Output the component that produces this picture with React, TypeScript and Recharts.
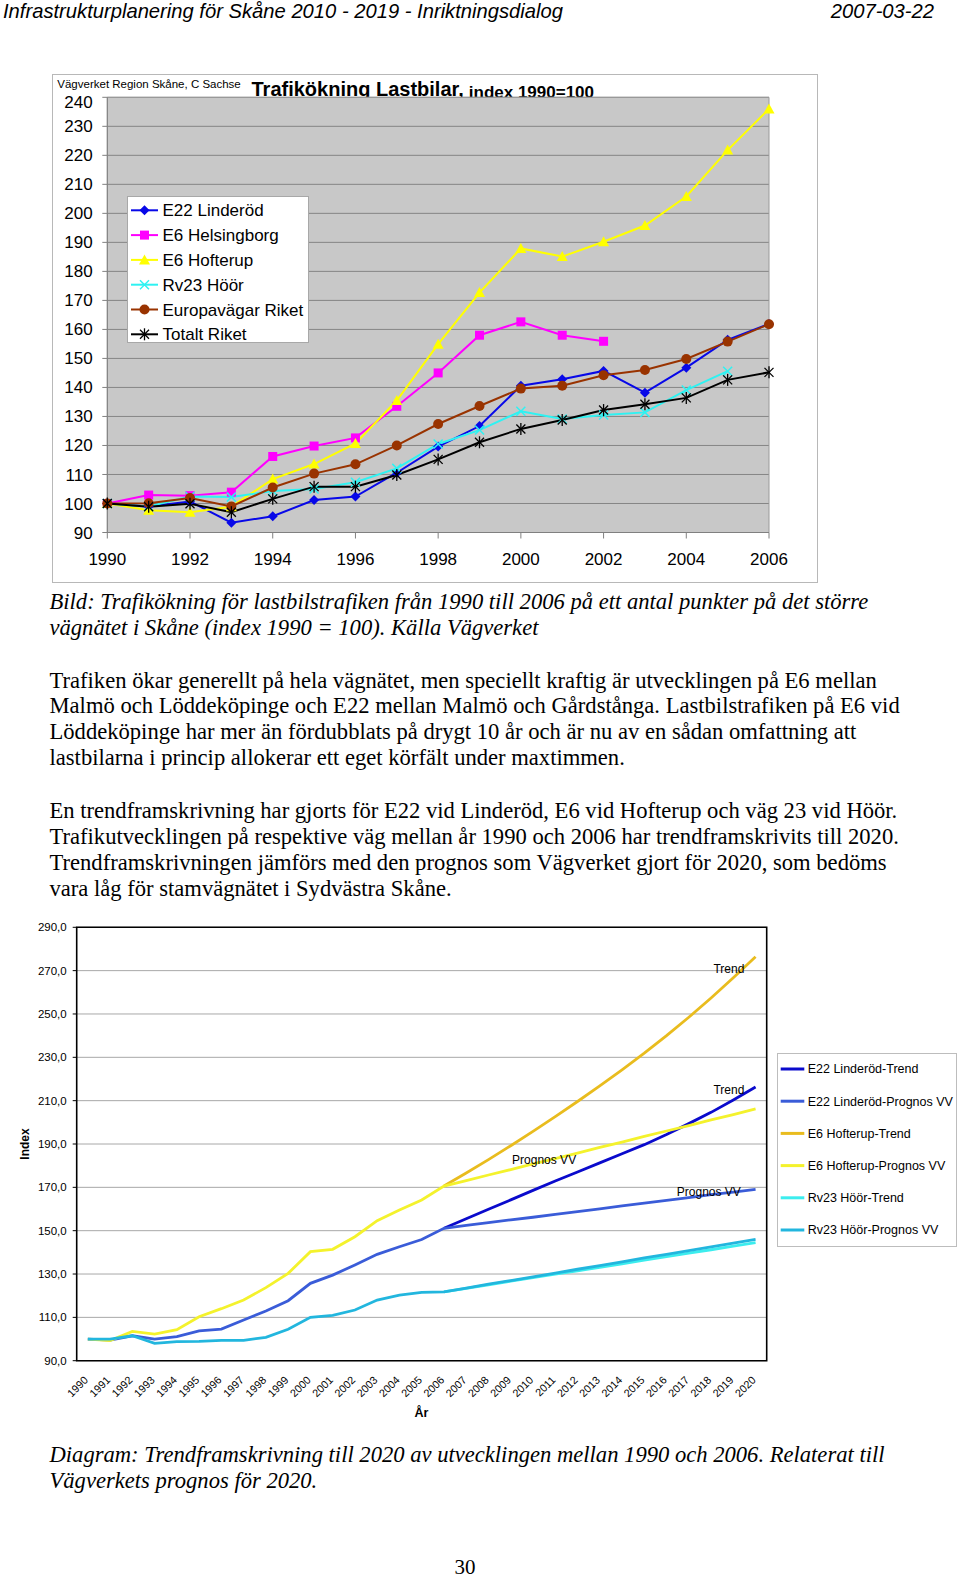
import React from "react";
import { LineChart, Line, XAxis, YAxis, CartesianGrid, ReferenceArea, ReferenceDot } from "recharts";

const SANS = "'Liberation Sans', Arial, Helvetica, sans-serif";
const SERIF = "'Liberation Serif', 'Times New Roman', serif";

// ---------- chart 1: Trafikökning Lastbilar, index 1990=100 ----------
const years = [1990, 1991, 1992, 1993, 1994, 1995, 1996, 1997, 1998, 1999, 2000, 2001, 2002, 2003, 2004, 2005, 2006];
const e22Linderod = [100, 99, 100.7, 93.4, 95.6, 101.2, 102.4, 110.6, 119.6, 126.7, 140.6, 142.8, 145.7, 138.2, 146.8, 156.4, 161.9];
const e6Helsingborg = [100, 102.9, 102.7, 103.9, 116.2, 119.8, 122.6, 133.5, 145.0, 158.0, 162.6, 158.0, 155.9, null, null, null, null];
const e6Hofterup = [100, 97.7, 97.0, 98.9, 108.4, 113.6, 120.7, 135.5, 154.9, 172.7, 187.9, 185.1, 190.2, 195.8, 205.8, 221.8, 236.0];
const rv23Hoor = [100, 99.0, 102.4, 102.2, 104.3, 105.0, 107.3, 112.1, 120.5, 125.3, 131.8, 129.1, 130.5, 131.4, 139.1, 145.6, null];
const europavagar = [100, 100.1, 101.9, 99.0, 105.5, 110.3, 113.5, 120.0, 127.4, 133.6, 139.6, 140.6, 144.2, 146.0, 149.8, 155.8, 161.8];
const totaltRiket = [100, 98.9, 99.9, 97.0, 101.6, 105.8, 105.8, 109.8, 115.2, 121.1, 125.7, 128.8, 132.2, 134.2, 136.4, 142.6, 145.2];
const topTicksX = [1990, 1992, 1994, 1996, 1998, 2000, 2002, 2004, 2006];
const topTicksY = [90, 100, 110, 120, 130, 140, 150, 160, 170, 180, 190, 200, 210, 220, 230, 240];

// ---------- chart 2: trend vs prognos ----------
const trendYears = [1990, 1991, 1992, 1993, 1994, 1995, 1996, 1997, 1998, 1999, 2000, 2001, 2002, 2003, 2004, 2005, 2006,
  2007, 2008, 2009, 2010, 2011, 2012, 2013, 2014, 2015, 2016, 2017, 2018, 2019, 2020];
const N16 = [null, null, null, null, null, null, null, null, null, null, null, null, null, null, null, null];
const e22Trend = [...N16, 151.1, 155.5, 159.9, 164.2, 168.6, 172.9, 177.1, 181.3, 185.5, 189.7, 194.4, 199.4, 204.6, 210.3, 216.3];
const e22Prognos = [100, 99.5, 101.5, 100.0, 101.1, 103.8, 104.6, 108.8, 112.9, 117.7, 125.7, 129.5, 134.2, 139.1, 142.6, 145.9, 151.1,
  152.4, 153.7, 155.0, 156.2, 157.5, 158.8, 160.1, 161.4, 162.7, 164.0, 165.3, 166.6, 167.8, 169.1];
const e6Trend = [...N16, 170.6, 176.6, 182.8, 189.2, 195.8, 202.6, 209.6, 216.8, 224.2, 231.9, 240.0, 248.5, 257.4, 266.7, 276.4];
const e6Prognos = [100, 99.3, 103.5, 102.3, 104.3, 110.3, 114.0, 118.0, 123.7, 130.3, 140.3, 141.4, 147.2, 154.6, 159.5, 164.2, 170.6,
  173.1, 175.7, 178.2, 180.8, 183.3, 185.8, 188.4, 190.9, 193.5, 196.0, 198.5, 201.1, 203.6, 206.2];
const rv23Trend = [...N16, 121.8, 123.4, 125.0, 126.7, 128.3, 129.9, 131.5, 133.1, 134.7, 136.4, 138.0, 139.6, 141.2, 142.9, 144.5];
const rv23Prognos = [100, 100, 101.5, 98.0, 98.8, 98.9, 99.4, 99.4, 100.8, 104.5, 110.0, 110.9, 113.4, 118.0, 120.3, 121.5, 121.8,
  123.5, 125.3, 127.0, 128.7, 130.4, 132.2, 133.9, 135.6, 137.4, 139.1, 140.8, 142.5, 144.3, 146.0];
const bottomTicksY = [90, 110, 130, 150, 170, 190, 210, 230, 250, 270, 290];

const topData = years.map((year, i) => ({
  year,
  e22: e22Linderod[i],
  e6h: e6Helsingborg[i],
  e6f: e6Hofterup[i],
  rv23: rv23Hoor[i],
  eur: europavagar[i],
  tot: totaltRiket[i],
}));

const bottomData = trendYears.map((year, i) => ({
  year,
  e22t: e22Trend[i],
  e22p: e22Prognos[i],
  e6t: e6Trend[i],
  e6p: e6Prognos[i],
  rv23t: rv23Trend[i],
  rv23p: rv23Prognos[i],
}));

type Shape = "diamond" | "square" | "triangle" | "x" | "circle" | "star";

function marker(shape: Shape, cx: number, cy: number, color: string, key?: any) {
  switch (shape) {
    case "diamond":
      return <polygon key={key} points={`${cx},${cy - 5} ${cx + 5},${cy} ${cx},${cy + 5} ${cx - 5},${cy}`} fill={color} />;
    case "square":
      return <rect key={key} x={cx - 4.5} y={cy - 4.5} width={9} height={9} fill={color} />;
    case "triangle":
      return <polygon key={key} points={`${cx},${cy - 5.5} ${cx + 5.5},${cy + 4.5} ${cx - 5.5},${cy + 4.5}`} fill={color} />;
    case "x":
      return (
        <g key={key} stroke={color} strokeWidth={1.5}>
          <line x1={cx - 4.5} y1={cy - 4.5} x2={cx + 4.5} y2={cy + 4.5} />
          <line x1={cx - 4.5} y1={cy + 4.5} x2={cx + 4.5} y2={cy - 4.5} />
        </g>
      );
    case "circle":
      return <circle key={key} cx={cx} cy={cy} r={5} fill={color} />;
    default:
      return (
        <g key={key} stroke={color} strokeWidth={1.3}>
          <line x1={cx - 4.5} y1={cy - 4.5} x2={cx + 4.5} y2={cy + 4.5} />
          <line x1={cx - 4.5} y1={cy + 4.5} x2={cx + 4.5} y2={cy - 4.5} />
          <line x1={cx} y1={cy - 6} x2={cx} y2={cy + 6} />
        </g>
      );
  }
}

const dotFor = (shape: Shape, color: string) => (props: any) => {
  const { cx, cy, value, index } = props;
  if (value == null || cx == null || cy == null) return <g key={`n${index}`} />;
  return marker(shape, cx, cy, color, `d${index}`);
};

const topSeries: { key: string; name: string; color: string; shape: Shape }[] = [
  { key: "e22", name: "E22 Linderöd", color: "#0808E8", shape: "diamond" },
  { key: "e6h", name: "E6 Helsingborg", color: "#FF00FF", shape: "square" },
  { key: "e6f", name: "E6 Hofterup", color: "#FFFF00", shape: "triangle" },
  { key: "rv23", name: "Rv23 Höör", color: "#2EF2F2", shape: "x" },
  { key: "eur", name: "Europavägar Riket", color: "#993300", shape: "circle" },
  { key: "tot", name: "Totalt Riket", color: "#000000", shape: "star" },
];

const bottomSeries = [
  { key: "e22t", name: "E22 Linderöd-Trend", color: "#0A0ACC" },
  { key: "e22p", name: "E22 Linderöd-Prognos VV", color: "#3A5CD8" },
  { key: "e6t", name: "E6 Hofterup-Trend", color: "#E9BC1E" },
  { key: "e6p", name: "E6 Hofterup-Prognos VV", color: "#F4F22C" },
  { key: "rv23t", name: "Rv23 Höör-Trend", color: "#3CEDEE" },
  { key: "rv23p", name: "Rv23 Höör-Prognos VV", color: "#22B6DE" },
];

const TopYTick = (props: any) => {
  const { x, y, payload } = props;
  const shift = payload.value === 240 ? 4.5 : 0;
  return (
    <text x={x} y={y + shift} dy="0.355em" textAnchor="end" fontSize={17} fontFamily={SANS} fill="#000">
      {payload.value}
    </text>
  );
};

const RotTick = (props: any) => {
  const { x, y, payload } = props;
  const ax = x + 1;
  const ay = y + 20;
  return (
    <text x={ax} y={ay} transform={`rotate(-45, ${ax}, ${ay})`} textAnchor="end" fontSize={10.8} fontFamily={SANS} fill="#000">
      {payload.value}
    </text>
  );
};

const noteLabel = (text: string) => (props: any) => {
  const { viewBox } = props;
  const cx = viewBox.x + (viewBox.width || 0) / 2;
  const cy = viewBox.y + (viewBox.height || 0) / 2;
  return (
    <text x={cx} y={cy} dy="0.355em" textAnchor="middle" fontSize={12} fontFamily={SANS} fill="#000">
      {text}
    </text>
  );
};

const para1 = [
  "Trafiken ökar generellt på hela vägnätet, men speciellt kraftig är utvecklingen på E6 mellan",
  "Malmö och Löddeköpinge och E22 mellan Malmö och Gårdstånga. Lastbilstrafiken på E6 vid",
  "Löddeköpinge har mer än fördubblats på drygt 10 år och är nu av en sådan omfattning att",
  "lastbilarna i princip allokerar ett eget körfält under maxtimmen.",
];
const para2 = [
  "En trendframskrivning har gjorts för E22 vid Linderöd, E6 vid Hofterup och väg 23 vid Höör.",
  "Trafikutvecklingen på respektive väg mellan år 1990 och 2006 har trendframskrivits till 2020.",
  "Trendframskrivningen jämförs med den prognos som Vägverket gjort för 2020, som bedöms",
  "vara låg för stamvägnätet i Sydvästra Skåne.",
];
const caption1 = [
  "Bild: Trafikökning för lastbilstrafiken från 1990 till 2006 på ett antal punkter på det större",
  "vägnätet i Skåne (index 1990 = 100). Källa Vägverket",
];
const caption2 = [
  "Diagram: Trendframskrivning till 2020 av utvecklingen mellan 1990 och 2006. Relaterat till",
  "Vägverkets prognos för 2020.",
];

function PageText() {
  const body = { fontFamily: SERIF, fontSize: 22.6, fill: "#000" };
  return (
    <svg width={960} height={1580} style={{ position: "absolute", left: 0, top: 0 }}>
      <text x={3} y={18} fontFamily={SANS} fontStyle="italic" fontSize={20.2} fill="#000">
        Infrastrukturplanering för Skåne 2010 - 2019 - Inriktningsdialog
      </text>
      <text x={934} y={18} textAnchor="end" fontFamily={SANS} fontStyle="italic" fontSize={20.2} fill="#000">
        2007-03-22
      </text>
      {caption1.map((t, i) => (
        <text key={`c1${i}`} x={49.5} y={609 + i * 26} fontStyle="italic" {...body}>{t}</text>
      ))}
      {para1.map((t, i) => (
        <text key={`p1${i}`} x={49.5} y={687.5 + i * 25.9} {...body}>{t}</text>
      ))}
      {para2.map((t, i) => (
        <text key={`p2${i}`} x={49.5} y={817.5 + i * 26.1} {...body}>{t}</text>
      ))}
      <text x={25} y={1144} transform="rotate(-90, 25, 1144)" dy="0.355em" textAnchor="middle" fontFamily={SANS} fontWeight="bold" fontSize={12} fill="#000">
        Index
      </text>
      <text x={421.5} y={1413} dy="0.355em" textAnchor="middle" fontFamily={SANS} fontWeight="bold" fontSize={12.5} fill="#000">
        År
      </text>
      {caption2.map((t, i) => (
        <text key={`c2${i}`} x={49.5} y={1461.5 + i * 26} fontStyle="italic" {...body}>{t}</text>
      ))}
      <text x={465} y={1574} textAnchor="middle" fontFamily={SERIF} fontSize={21} fill="#000">30</text>
    </svg>
  );
}

function TopChart() {
  return (
    <div style={{ position: "absolute", left: 52, top: 74, width: 766, height: 509, boxSizing: "border-box", border: "1px solid #B8B8B8", background: "#fff" }}>
      <svg width={766} height={509} style={{ position: "absolute", left: -1, top: -1 }}>
        <text x={5.3} y={14} fontFamily={SANS} fontSize={11.5} fill="#000">Vägverket Region Skåne, C Sachse</text>
        <text x={199.5} y={21.5} fontFamily={SANS} fontWeight="bold" fontSize={20} fill="#000">
          Trafikökning Lastbilar,
          <tspan fontSize={17} dx={5} dy={2}>index 1990=100</tspan>
        </text>
      </svg>
      <div style={{ position: "absolute", left: -1, top: -1 }}>
        <LineChart width={766} height={509} data={topData} margin={{ top: 23.3, right: 49, left: 0, bottom: 0 }}>
          <CartesianGrid horizontal vertical={false} fill="#C8C8C8" fillOpacity={1} stroke="#858585" strokeWidth={1} />
          <XAxis
            dataKey="year"
            type="number"
            domain={[1990, 2006]}
            ticks={topTicksX}
            height={50.5}
            axisLine={{ stroke: "#808080" }}
            tickLine={{ stroke: "#808080" }}
            tickSize={6}
            tickMargin={14}
            tick={{ fontSize: 17, fontFamily: SANS, fill: "#000" }}
          />
          <YAxis
            type="number"
            domain={[90, 240]}
            ticks={topTicksY}
            width={55.3}
            axisLine={{ stroke: "#808080" }}
            tickLine={{ stroke: "#808080" }}
            tickSize={5}
            tickMargin={9.6}
            tick={<TopYTick />}
          />
          <ReferenceArea x1={1990} x2={2006} y1={90} y2={240} fill="none" stroke="#9A9A9A" strokeWidth={1} />
          {topSeries.map((s) => (
            <Line
              key={s.key}
              dataKey={s.key}
              stroke={s.color}
              strokeWidth={2}
              dot={dotFor(s.shape, s.color)}
              activeDot={false}
              isAnimationActive={false}
              connectNulls={false}
            />
          ))}
        </LineChart>
      </div>
      <div style={{ position: "absolute", left: 74, top: 121, width: 182, height: 147, boxSizing: "border-box", border: "1px solid #A8A8A8", background: "#fff" }}>
        <svg width={182} height={147} style={{ position: "absolute", left: -1, top: -1 }}>
          {topSeries.map((s, i) => {
            const y = 14.3 + i * 24.8;
            return (
              <g key={s.key}>
                <line x1={4} x2={31} y1={y} y2={y} stroke={s.color} strokeWidth={2} />
                {marker(s.shape, 17.5, y, s.color)}
                <text x={35.5} y={y} dy="0.355em" fontFamily={SANS} fontSize={17} fill="#000">{s.name}</text>
              </g>
            );
          })}
        </svg>
      </div>
    </div>
  );
}

function BottomChart() {
  const edges = [...trendYears.map((y) => y - 0.5), 2020.5];
  return (
    <div style={{ position: "absolute", left: 0, top: 900 }}>
      <LineChart width={960} height={540} data={bottomData} margin={{ top: 27.3, right: 193.3, left: 0, bottom: 0 }}>
        <CartesianGrid horizontal vertical={false} stroke="#A8A8A8" strokeWidth={1} />
        <XAxis
          xAxisId="edge"
          type="number"
          domain={[1989.5, 2020.5]}
          ticks={edges}
          height={0}
          axisLine={false}
          tick={false}
          tickLine={{ stroke: "#000" }}
          tickSize={4}
          allowDataOverflow
        />
        <XAxis
          xAxisId="main"
          dataKey="year"
          type="number"
          domain={[1989.5, 2020.5]}
          ticks={trendYears}
          height={79.3}
          axisLine={false}
          tickLine={false}
          tickSize={0}
          tickMargin={0}
          interval={0}
          tick={<RotTick />}
        />
        <YAxis
          type="number"
          domain={[90, 290]}
          ticks={bottomTicksY}
          width={76.7}
          axisLine={false}
          tickLine={{ stroke: "#000" }}
          tickSize={4}
          tickMargin={6}
          tickFormatter={(v: number) => v.toFixed(1).replace(".", ",")}
          tick={{ fontSize: 11.5, fontFamily: SANS, fill: "#000" }}
        />
        <ReferenceArea xAxisId="main" x1={1989.5} x2={2020.5} y1={90} y2={290} fill="none" stroke="#000" strokeWidth={1.6} />
        {bottomSeries.map((s) => (
          <Line
            key={s.key}
            xAxisId="main"
            dataKey={s.key}
            stroke={s.color}
            strokeWidth={2.8}
            dot={false}
            activeDot={false}
            isAnimationActive={false}
            connectNulls={false}
          />
        ))}
        <ReferenceDot xAxisId="main" x={2018.8} y={271} r={1} fill="none" stroke="none" label={noteLabel("Trend")} />
        <ReferenceDot xAxisId="main" x={2018.8} y={214.9} r={1} fill="none" stroke="none" label={noteLabel("Trend")} />
        <ReferenceDot xAxisId="main" x={2010.5} y={182.6} r={1} fill="none" stroke="none" label={noteLabel("Prognos VV")} />
        <ReferenceDot xAxisId="main" x={2017.9} y={167.8} r={1} fill="none" stroke="none" label={noteLabel("Prognos VV")} />
      </LineChart>
      <div style={{ position: "absolute", left: 777, top: 153, width: 180, height: 194, boxSizing: "border-box", border: "1px solid #BDBDBD", background: "#fff" }}>
        <svg width={180} height={194} style={{ position: "absolute", left: -1, top: -1 }}>
          {bottomSeries.map((s, i) => {
            const y = 16 + i * 32.2;
            return (
              <g key={s.key}>
                <line x1={3.7} x2={27.3} y1={y} y2={y} stroke={s.color} strokeWidth={3} />
                <text x={30.7} y={y} dy="0.355em" fontFamily={SANS} fontSize={12.5} fill="#000">{s.name}</text>
              </g>
            );
          })}
        </svg>
      </div>
    </div>
  );
}

export default function App() {
  return (
    <div style={{ position: "absolute", left: 0, top: 0, width: 960, height: 1580, background: "#fff", overflow: "hidden" }}>
      <PageText />
      <TopChart />
      <BottomChart />
    </div>
  );
}
